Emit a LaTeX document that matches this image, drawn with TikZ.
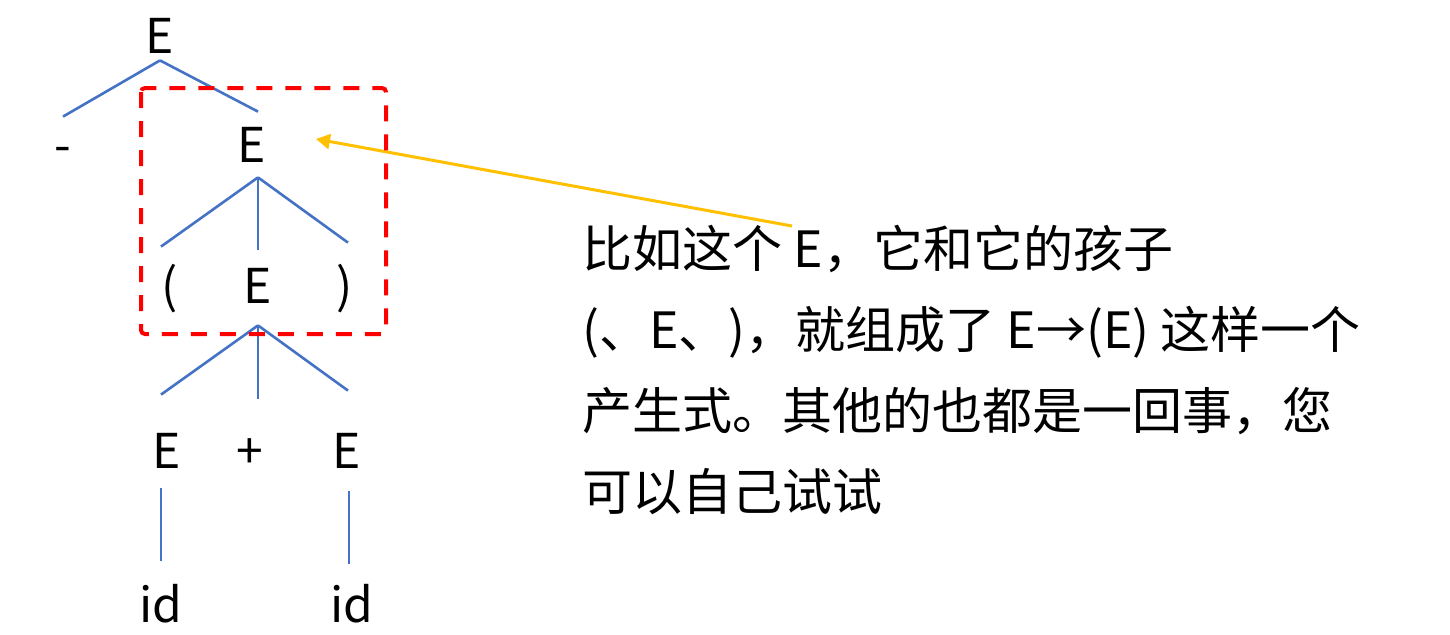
\documentclass[tikz,border=0pt]{standalone}
\usepackage{fontspec}
\setmainfont{Noto Sans CJK SC}
\usetikzlibrary{arrows.meta}

\definecolor{treeblue}{HTML}{4472C4}
\definecolor{callout}{HTML}{FFC000}

\tikzset{
  sym/.style={anchor=base,inner sep=0pt,font=\fontsize{24}{28}\selectfont,text height=17.5pt,text depth=0pt},
  branch/.style={draw=treeblue,line width=1.3pt},
  say/.style={anchor=base west,inner sep=0pt,font=\fontsize{25}{30}\selectfont},
  redbox/.style={draw=red,line width=2pt,dash pattern=on 8pt off 6.5pt,rounded corners=2pt},
  pointer/.style={draw=callout,line width=1.5pt,-{Triangle[length=7pt,width=7.5pt]}}
}

\begin{document}
\begin{tikzpicture}[x=0.5pt,y=-0.5pt]
              \useasboundingbox (0,0) rectangle (1450,634);
              \node[sym,text depth=3.5pt] (e1) at (160,53) {E};
              \node[sym,text height=22.5pt] (mi) at (63,162) {-};
              \node[sym,text height=25pt,text depth=7.5pt] (e2) at (252,162) {E};
              \node[sym,text height=28pt] (lp) at (170,303) {(};
              \node[sym,text height=26.5pt,text depth=11pt] (e3) at (258,303) {E};
              \node[sym,text height=30pt] (rp) at (345,303) {)};
              \node[sym,text height=36.5pt,text depth=10pt] (e4) at (167,468) {E};
              \node[sym,text height=34.5pt] (pl) at (250,468) {+};
              \node[sym,text height=38.5pt,text depth=11.5pt] (e5) at (347,468) {E};
              \node[sym,text height=30.5pt] (ida) at (161,622) {id};
              \node[sym,text height=29pt] (idb) at (352,622) {id};

              %e1>- E
              \draw[branch] (e1.south) -- (mi.north);
              \draw[branch] (e1.south) -- ([xshift=3pt]e2.north);
              %e2>( E )
              \draw[branch] ([xshift=3pt]e2.south) -- ([xshift=-4.5pt]lp.north);
              \draw[branch] ([xshift=3pt]e2.south) -- (e3.north);
              \draw[branch] ([xshift=3pt]e2.south) -- ([xshift=1.5pt]rp.north);
              %e3>E + E
              \draw[branch] (e3.south) -- ([xshift=-3pt]e4.north);
              \draw[branch] (e3.south) -- ([xshift=4pt]pl.north);
              \draw[branch] (e3.south) -- ([xshift=0.5pt]e5.north);
              %E>id
              \draw[branch] ([xshift=-3pt]e4.south) -- (ida.north);
              \draw[branch] ([xshift=1pt]e5.south) -- ([xshift=-1.5pt]idb.north);

              \node[say] (t1) at (582,267) {比如这个 E，它和它的孩子};
              \node[say] (t2) at (582,348) {(、E、)，就组成了 E→(E) 这样一个};
              \node[say] (t3) at (582,429) {产生式。其他的也都是一回事，您};
              \node[say] (t4) at (582,510) {可以自己试试};

              %callout
              \coordinate (tail) at (792,226);
              \coordinate (tip) at (316,139);
              \draw[pointer] (tail) -- (tip);

              \draw[redbox] (141,88) rectangle (386,334);
            \end{tikzpicture}
\end{document}
